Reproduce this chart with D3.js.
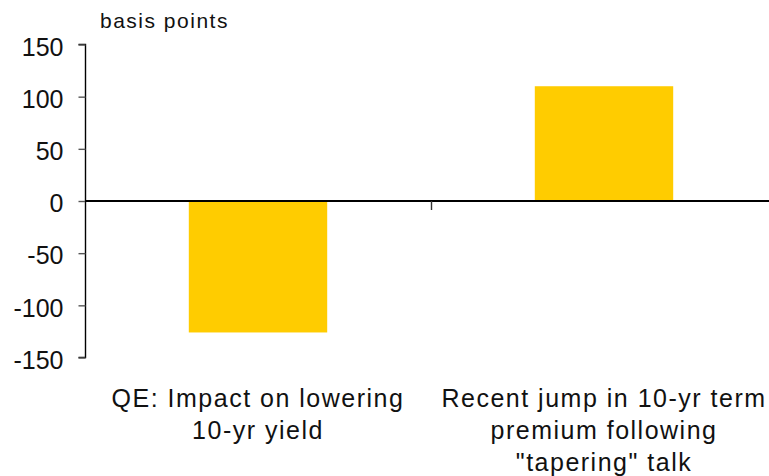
<!DOCTYPE html>
<html><head><meta charset="utf-8">
<script src="https://cdn.jsdelivr.net/npm/d3@7"></script>
<style>body{margin:0;background:#fff}svg{display:block}text{font-family:"Liberation Sans",Arial,sans-serif;fill:#111}</style>
</head><body><svg id="c" width="769" height="476"></svg>
<script>
const categories = [["QE: Impact on lowering","10-yr yield"],["Recent jump in 10-yr term","premium following","\"tapering\" talk"]];
const values = [-126, 110];
const yTicks = [-150,-100,-50,0,50,100,150];
const yLabel = "basis points";

const svg = d3.select("#c");
const x = d3.scaleBand().domain(d3.range(categories.length)).range([85, 777]).paddingInner(0.6).paddingOuter(0.3);
const y = d3.scaleLinear().domain([-150,150]).range([357.5, 44.5]);

svg.selectAll("rect.bar").data(values).join("rect").attr("class","bar")
  .attr("x",(d,i)=>x(i)).attr("width",x.bandwidth())
  .attr("y",d=>y(Math.max(0,d))).attr("height",d=>Math.abs(y(d)-y(0)))
  .attr("fill","#FFCC00");

const ax = svg.append("g").attr("transform","translate(85.5,0)")
  .call(d3.axisLeft(y).tickValues(yTicks).tickSize(7).tickPadding(15).tickFormat(d=>String(d)));
ax.select(".domain").attr("d",`M-7,${y(150)}H0V${y(-150)}H-7`).attr("stroke","#000").attr("stroke-width",1.4);
ax.selectAll(".tick line").attr("stroke","#555").attr("stroke-width",1.4);
ax.selectAll(".tick text").attr("font-size",25).attr("dy","0.43em").attr("fill","#111")
  .style("font-family","'Liberation Sans',Arial,sans-serif");

// zero line
svg.append("line").attr("x1",85).attr("x2",769).attr("y1",y(0)).attr("y2",y(0)).attr("stroke","#000").attr("stroke-width",1.8);
// category divider tick
const bx = x(1) - x.step()*x.paddingInner()/2;
svg.append("line").attr("x1",Math.round(bx)+0.5).attr("x2",Math.round(bx)+0.5).attr("y1",y(0)).attr("y2",y(0)+9).attr("stroke","#333").attr("stroke-width",1.4);

svg.append("text").attr("x",100).attr("y",28).attr("font-size",21).attr("letter-spacing","1.5px").text(yLabel);

categories.forEach((lines,i)=>{
  const t = svg.append("text").attr("text-anchor","middle").attr("font-size",25).attr("letter-spacing","1.5px");
  lines.forEach((l,j)=>t.append("tspan").attr("x",x(i)+x.bandwidth()/2).attr("y",407+j*32).text(l));
});
</script></body></html>
